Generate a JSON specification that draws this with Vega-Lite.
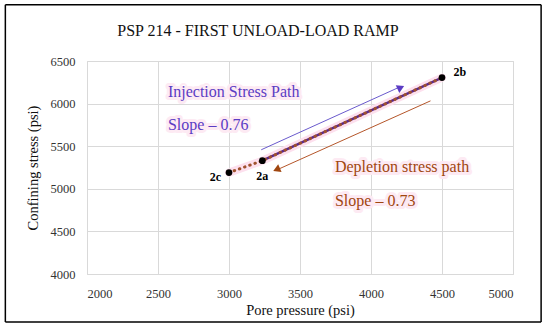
{
  "$schema": "https://vega.github.io/schema/vega-lite/v6.json",
  "autosize": "none",
  "width": 426,
  "height": 213,
  "padding": {"left": 87, "top": 61, "right": 37, "bottom": 60},
  "background": "white",
  "title": {"text": "PSP 214 - FIRST UNLOAD-LOAD RAMP", "font": "Liberation Serif", "fontSize": 16, "fontWeight": "normal", "color": "#111", "anchor": "middle", "frame": "group", "dx": -42, "offset": -35},
  "config": {
    "view": {"stroke": "#d9d9d9", "strokeWidth": 1},
    "axis": {"grid": true, "gridColor": "#d9d9d9", "domain": false, "ticks": false, "format": "d", "labelFont": "Liberation Serif", "labelFontSize": 12.5, "labelColor": "#333", "titleFont": "Liberation Serif", "titleFontSize": 14.5, "titleFontWeight": "normal", "titleColor": "#111"}
  },
  "datasets": {
    "points": [
      {"label": "2c", "pp": 3000, "cs": 5190, "ord": 1},
      {"label": "2a", "pp": 3235, "cs": 5330, "ord": 2},
      {"label": "2b", "pp": 4500, "cs": 6305, "ord": 3}
    ],
    "ptlabels": [
      {"label": "2c", "pp": 2905, "cs": 5140},
      {"label": "2a", "pp": 3234, "cs": 5150},
      {"label": "2b", "pp": 4625, "cs": 6370}
    ],
    "arrows": [
      {"path": "inj", "ord": 1, "pp": 3227, "cs": 5458},
      {"path": "inj", "ord": 2, "pp": 4200, "cs": 6193},
      {"path": "dep", "ord": 1, "pp": 4419, "cs": 6032},
      {"path": "dep", "ord": 2, "pp": 3345, "cs": 5228}
    ],
    "heads": [
      {"path": "inj", "pp": 4210, "cs": 6188, "ang": 65},
      {"path": "dep", "pp": 3335, "cs": 5226, "ang": 246}
    ],
    "notes": [
      {"path": "inj", "text": "Injection Stress Path", "pp": 2570, "cs": 6136},
      {"path": "inj", "text": "Slope – 0.76", "pp": 2570, "cs": 5751},
      {"path": "dep", "text": "Depletion stress path", "pp": 3746, "cs": 5259},
      {"path": "dep", "text": "Slope – 0.73", "pp": 3746, "cs": 4861}
    ],
    "frame": [
      {"x1": 1425, "x2": 5198, "y1": 7160, "y2": 7160},
      {"x1": 1425, "x2": 5198, "y1": 3437, "y2": 3437},
      {"x1": 1425, "x2": 1425, "y1": 7160, "y2": 3437},
      {"x1": 5198, "x2": 5198, "y1": 7160, "y2": 3437}
    ]
  },
  "encoding": {
    "x": {"field": "pp", "type": "quantitative", "title": "Pore pressure (psi)", "scale": {"domain": [2000, 5000], "nice": false, "zero": false}, "axis": {"values": [2000, 2500, 3000, 3500, 4000, 4500, 5000], "labelPadding": 13, "titlePadding": 4}},
    "y": {"field": "cs", "type": "quantitative", "title": "Confining stress (psi)", "scale": {"domain": [4000, 6500], "nice": false, "zero": false}, "axis": {"values": [4000, 4500, 5000, 5500, 6000, 6500], "labelPadding": 12, "titlePadding": 10}}
  },
  "layer": [
    {"data": {"name": "points"}, "mark": {"type": "line", "color": "#fde0ee", "strokeWidth": 8, "strokeCap": "round"}, "encoding": {"order": {"field": "ord"}}},
    {"data": {"name": "points"}, "transform": [{"filter": "datum.label != '2c'"}], "mark": {"type": "line", "color": "#5b2a8c", "strokeWidth": 2.5}, "encoding": {"order": {"field": "ord"}}},
    {"data": {"name": "points"}, "mark": {"type": "line", "color": "#a0522d", "strokeWidth": 3, "strokeDash": [0.5, 5], "strokeCap": "round"}, "encoding": {"order": {"field": "ord"}}},
    {"data": {"name": "arrows"}, "transform": [{"filter": "datum.path == 'inj'"}], "mark": {"type": "line", "color": "#6a5acd", "strokeWidth": 1}, "encoding": {"order": {"field": "ord"}}},
    {"data": {"name": "arrows"}, "transform": [{"filter": "datum.path == 'dep'"}], "mark": {"type": "line", "color": "#b5562a", "strokeWidth": 1}, "encoding": {"order": {"field": "ord"}}},
    {"data": {"name": "heads"}, "mark": {"type": "point", "shape": "triangle-up", "filled": true, "size": 70, "opacity": 1}, "encoding": {"angle": {"field": "ang", "type": "quantitative", "scale": null}, "color": {"field": "path", "type": "nominal", "scale": {"domain": ["inj", "dep"], "range": ["#5b3cc4", "#a0460f"]}, "legend": null}}},
    {"data": {"name": "points"}, "mark": {"type": "circle", "color": "#000", "size": 45, "opacity": 1}},
    {"data": {"name": "ptlabels"}, "mark": {"type": "text", "font": "Liberation Serif", "fontSize": 12, "fontWeight": "bold", "color": "#000"}, "encoding": {"text": {"field": "label"}}},
    {"data": {"name": "notes"}, "mark": {"type": "text", "align": "left", "font": "Liberation Serif", "fontSize": 16, "stroke": "#fdeaf3", "strokeWidth": 6, "strokeJoin": "round", "color": "#fdeaf3"}, "encoding": {"text": {"field": "text"}}},
    {"data": {"name": "notes"}, "mark": {"type": "text", "align": "left", "font": "Liberation Serif", "fontSize": 16}, "encoding": {"text": {"field": "text"}, "color": {"field": "path", "type": "nominal", "scale": {"domain": ["inj", "dep"], "range": ["#6b3fa0", "#a3402c"]}, "legend": null}}},
    {"data": {"name": "frame"}, "mark": {"type": "rule", "color": "#000", "strokeWidth": 1.5, "clip": false}, "encoding": {"x": {"field": "x1", "type": "quantitative"}, "x2": {"field": "x2"}, "y": {"field": "y1", "type": "quantitative"}, "y2": {"field": "y2"}}}
  ]
}
